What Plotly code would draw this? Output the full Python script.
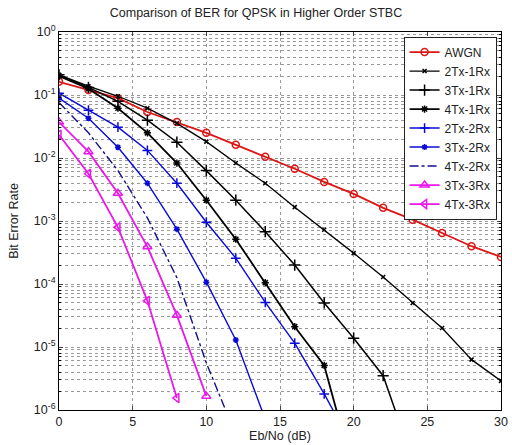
import plotly.graph_objects as go

ebno = [0, 2, 4, 6, 8, 10, 12, 14, 16, 18, 20, 22, 24, 26, 28, 30]

ber_awgn = [0.162, 0.120, 0.0891, 0.0537, 0.0372, 0.0251, 0.0162, 0.0105, 0.00676,
            0.00417, 0.00269, 0.00162, 0.00105, 0.000646, 0.000398, 0.000269]
ber_2tx1rx = [0.209, 0.138, 0.0955, 0.0617, 0.0355, 0.0182, 0.00832, 0.00398, 0.00166,
              0.000724, 0.000309, 0.000129, 5.01e-5, 2.0e-5, 6.3e-6, 2.9e-6]
ber_3tx1rx = [0.209, 0.132, 0.0794, 0.0398, 0.0178, 0.00631, 0.00214, 0.000676, 0.000200,
              5.0e-5, 1.38e-5, 3.5e-6, 1.6e-7]
ber_4tx1rx = [0.200, 0.126, 0.0617, 0.0251, 0.00832, 0.00214, 0.000513, 0.000105, 2.1e-5,
              5.1e-6, 1e-7]
ber_2tx2rx = [0.107, 0.0575, 0.0309, 0.0132, 0.00398, 0.000955, 0.000257, 5.1e-5, 1.15e-5,
              1.8e-6, 2.5e-7]
ber_3tx2rx = [0.0891, 0.0427, 0.0148, 0.00398, 0.000741, 0.000107, 1.29e-5, 7.1e-7]
ber_4tx2rx = [0.0759, 0.0251, 0.00631, 0.00112, 0.000126, 5.6e-6, 4e-7]
ber_3tx3rx = [0.0372, 0.0126, 0.00275, 0.000389, 3.2e-5, 1.66e-6]
ber_4tx3rx = [0.0234, 0.00562, 0.000794, 5.4e-5, 1.55e-6]

x_ticks = [0, 5, 10, 15, 20, 25, 30]
y_tick_vals = [1e-6, 1e-5, 1e-4, 1e-3, 1e-2, 1e-1, 1]
y_tick_text = ["10<sup>-6</sup>", "10<sup>-5</sup>", "10<sup>-4</sup>", "10<sup>-3</sup>",
               "10<sup>-2</sup>", "10<sup>-1</sup>", "10<sup>0</sup>"]
y_minor_vals = [k * 10.0 ** e for e in range(-6, 0) for k in range(2, 10)]

RED = "#dd1515"
BLK = "#000000"
BLU = "#0a0ad8"
NAVY = "#10108a"
MAG = "#ea18ea"

series = [
    ("AWGN", ber_awgn, RED, "solid", "circle-open", 7, 1.8),
    ("2Tx-1Rx", ber_2tx1rx, BLK, "solid", "x-thin-open", 4, 1.3),
    ("3Tx-1Rx", ber_3tx1rx, BLK, "solid", "cross-thin-open", 8, 1.5),
    ("4Tx-1Rx", ber_4tx1rx, BLK, "solid", "asterisk-open", 6, 1.8),
    ("2Tx-2Rx", ber_2tx2rx, BLU, "solid", "cross-thin-open", 7, 1.4),
    ("3Tx-2Rx", ber_3tx2rx, BLU, "solid", "asterisk-open", 5, 1.4),
    ("4Tx-2Rx", ber_4tx2rx, NAVY, "dashdot", None, 0, 1.4),
    ("3Tx-3Rx", ber_3tx3rx, MAG, "solid", "triangle-up-open", 8, 1.8),
    ("4Tx-3Rx", ber_4tx3rx, MAG, "solid", "triangle-left-open", 8, 1.8),
]

fig = go.Figure()
for name, ys, col, dash, sym, msize, lw in series:
    xs = ebno[:len(ys)]
    if sym is None:
        fig.add_trace(go.Scatter(x=xs, y=ys, name=name, mode="lines",
                                 line=dict(color=col, width=lw, dash=dash)))
    else:
        fig.add_trace(go.Scatter(x=xs, y=ys, name=name, mode="lines+markers",
                                 line=dict(color=col, width=lw, dash=dash),
                                 marker=dict(symbol=sym, size=msize, color=col,
                                             line=dict(color=col, width=1.5))))

grid_col = "#9a9a9a"
fig.update_layout(
    width=512, height=445,
    margin=dict(l=59, r=4, t=32, b=35),
    paper_bgcolor="white", plot_bgcolor="white",
    font=dict(family="Liberation Sans, Arial, sans-serif", size=12, color="#222"),
    title=dict(text="Comparison of BER for QPSK in Higher Order STBC",
               x=0.5, xanchor="center", y=0.972, yanchor="middle",
               font=dict(size=12.5, color="#222")),
    legend=dict(x=0.99, xanchor="right", y=0.988, yanchor="top",
                bgcolor="white", bordercolor="#222", borderwidth=1,
                font=dict(size=12, color="#222"), tracegroupgap=0),
    showlegend=True,
)
fig.update_xaxes(
    range=[0, 30], tickvals=x_ticks, ticks="inside", ticklen=4,
    ticklabeloverflow="allow",
    showline=True, linecolor="black", linewidth=1, mirror="allticks",
    showgrid=True, gridcolor=grid_col, griddash="dot", gridwidth=1,
    zeroline=False, tickfont=dict(size=12.5, color="#222"),
    title=dict(text="Eb/No (dB)", font=dict(size=12.5, color="#222"), standoff=0),
)
fig.update_yaxes(
    type="log", range=[-6, 0], tickvals=y_tick_vals, ticktext=y_tick_text,
    ticks="inside", ticklen=4,
    showline=True, linecolor="black", linewidth=1, mirror="allticks",
    showgrid=True, gridcolor=grid_col, griddash="dot", gridwidth=1,
    minor=dict(tickvals=y_minor_vals, ticks="inside", ticklen=2, tickcolor="black",
               showgrid=True, gridcolor=grid_col, griddash="dot", gridwidth=1),
    zeroline=False, tickfont=dict(size=12.5, color="#222"),
    title=dict(text="Bit Error Rate", font=dict(size=12.5, color="#222"), standoff=12),
)

fig.write_html("out.html")
